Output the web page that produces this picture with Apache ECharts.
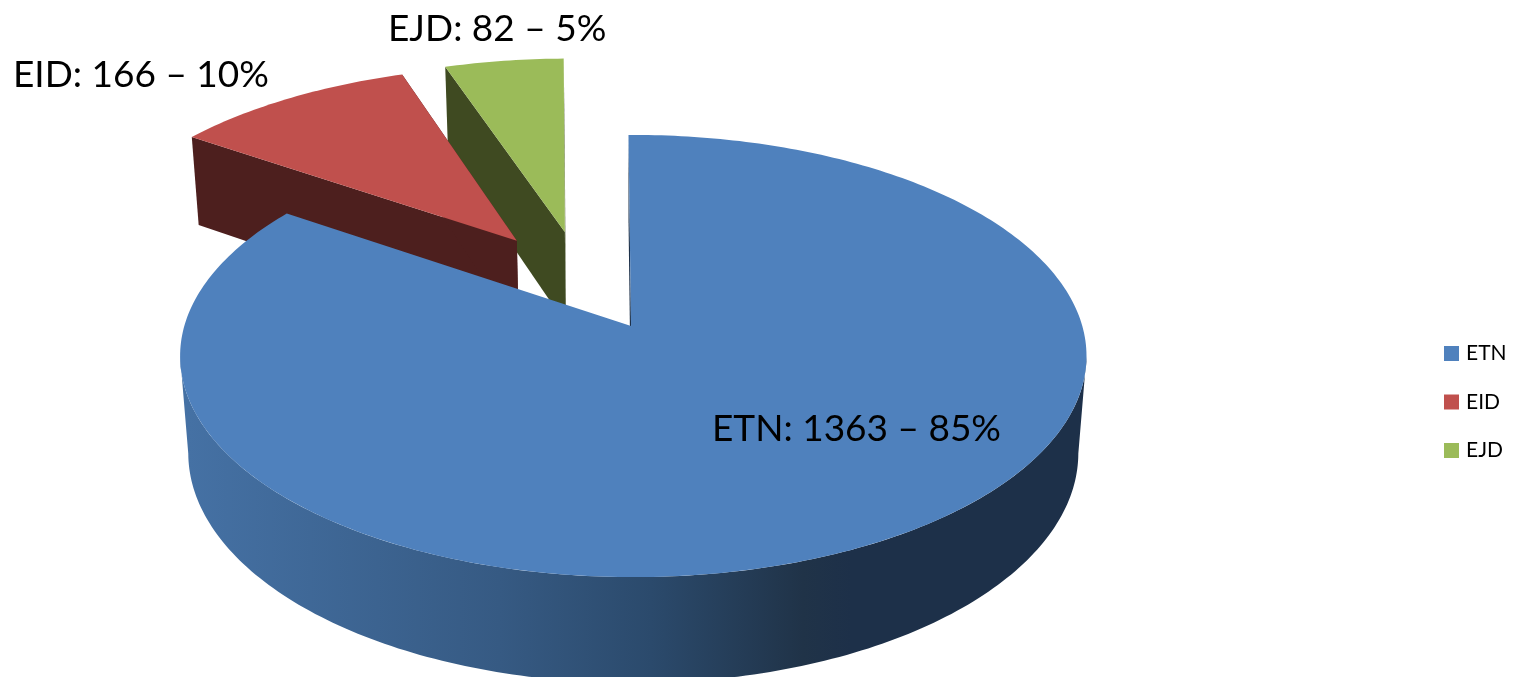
<!DOCTYPE html>
<html>
<head>
<meta charset="utf-8">
<style>html,body{margin:0;padding:0;background:#fff;overflow:hidden}#c{width:1521px;height:677px}</style>
<script src="https://cdn.jsdelivr.net/npm/echarts@6/dist/echarts.min.js"></script>
</head>
<body>
<div id="c"></div>
<script>
// Data
const names = ['ETN', 'EID', 'EJD'];
const values = [1363, 166, 82];

// Styles and layout, kept apart from the data
const topColors = ['#4f81bd', '#c0504d', '#9bbb59'];
const sideColors = ['#1d3049', '#4d1f1e', '#3f4a21'];
const explodeX = [0, -0.285, -0.174];
const explodeY = [0, -0.43, -0.48];
const apexNudgeX = [-0.005, 0.011, 0.012];
const apexNudgeY = [0, 0.015, 0.02];
const labelX = [712, 13, 388];
const labelY = [429, 75, 29];
const drawZ = [3, 2, 1];
const FONT = 'Lato, "Open Sans", sans-serif';

// Perspective camera of the 3D pie
const AX = 633.3, AY = 326, R = 449, K = 217, P = 0.1358, H = 98, Q = 0.018;
const START = -0.7 * Math.PI / 180;
function project(x, y, z) {
  const w = 1 - P * y + Q * z;
  return [AX + R * x / w, AY + (K * y + H * z) / w];
}
const total = values.reduce((a, b) => a + b, 0);
function sliceAngles(i) {
  const before = values.slice(0, i).reduce((a, b) => a + b, 0);
  return [START + before / total * 2 * Math.PI, START + (before + values[i]) / total * 2 * Math.PI];
}
function rim(i, a, z) {
  return project(explodeX[i] + Math.sin(a), explodeY[i] - Math.cos(a), z);
}
function arc(i, a0, a1, z) {
  const n = Math.max(2, Math.ceil(Math.abs(a1 - a0) * 60));
  const pts = [];
  for (let k = 0; k <= n; k++) pts.push(rim(i, a0 + (a1 - a0) * k / n, z));
  return pts;
}
function poly(points, fill) {
  return { type: 'polygon', shape: { points: points }, style: { fill: fill } };
}

const wallGradient = {
  type: 'linear', x: 188, y: 0, x2: 1079, y2: 0, global: true,
  colorStops: [
    { offset: 0, color: '#4571a4' },
    { offset: 0.35, color: '#365a83' },
    { offset: 0.52, color: '#2b4a6c' },
    { offset: 0.69, color: '#203348' },
    { offset: 0.745, color: '#1d3049' },
    { offset: 1, color: '#1d3049' }
  ]
};

function makeRenderItem(i) {
  return function () {
    const [a0, a1] = sliceAngles(i);
    const apexTop = project(explodeX[i] + apexNudgeX[i], explodeY[i] + apexNudgeY[i], 0);
    const apexBot = project(explodeX[i] + apexNudgeX[i], explodeY[i] + apexNudgeY[i], 1);
    const children = [];
    // Side walls
    const face = (a) => poly([apexTop, rim(i, a, 0), rim(i, a, 1), apexBot], sideColors[i]);
    if (i === 0) {
      const left = Math.acos(-P);
      const front0 = Math.max(a0, left), front1 = Math.min(a1, 2 * Math.PI - left);
      children.push(face(a0));
      children.push(poly(arc(i, front0, front1, 0).concat(arc(i, front1, front0, 1)), wallGradient));
    } else {
      children.push(face(a0));
      children.push(face(a1));
    }
    // Top face
    children.push(poly([apexTop].concat(arc(i, a0, a1, 0)), topColors[i]));
    // Data label
    const pct = Math.round(values[i] / total * 100);
    children.push({
      type: 'text', x: labelX[i], y: labelY[i], z2: 100,
      style: {
        text: names[i] + ': ' + values[i] + ' \u2013 ' + pct + '%',
        font: '37px ' + FONT, fill: '#000', textAlign: 'left', textVerticalAlign: 'middle'
      }
    });
    return { type: 'group', children: children };
  };
}

const chart = echarts.init(document.getElementById('c'), null, { renderer: 'canvas' });
chart.setOption({
  animation: false,
  backgroundColor: '#fff',
  legend: {
    data: names,
    orient: 'vertical',
    left: 1444, top: 343,
    padding: 0,
    icon: 'rect',
    itemWidth: 15, itemHeight: 15, itemGap: 27.5,
    selectedMode: false,
    textStyle: { fontFamily: FONT, fontSize: 21, color: '#000', lineHeight: 15, padding: [0, 0, 0, 2] }
  },
  series: names.map((name, i) => ({
    type: 'custom',
    name: name,
    coordinateSystem: 'none',
    z: drawZ[i],
    itemStyle: { color: topColors[i] },
    data: [values[i]],
    renderItem: makeRenderItem(i)
  }))
});
</script>
</body>
</html>
